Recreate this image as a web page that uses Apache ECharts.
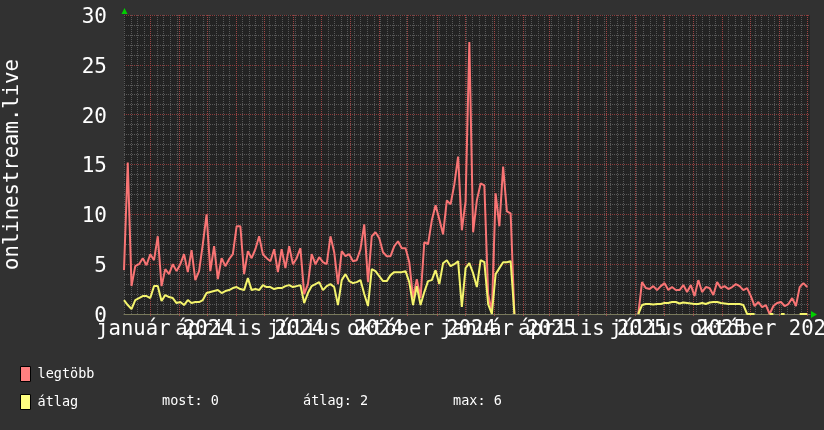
<!DOCTYPE html>
<html>
<head>
<meta charset="utf-8">
<script src="https://cdn.jsdelivr.net/npm/echarts@6/dist/echarts.min.js"></script>
<style>
  html, body { margin: 0; padding: 0; background: #313131; }
  #chart { width: 824px; height: 430px; }
</style>
</head>
<body>
<div id="chart"></div>
<script>
// one sample every 4 days, starting 2023-12-04 (null = no data)
const startDate = Date.UTC(2023, 11, 4);
const dayCount = 732;
const dayStep = 4;

const maxValues = [
  4.4, 15.2, 2.8, 4.8, 5.0, 5.6, 4.9, 6.0, 5.4, 7.8,
  2.8, 4.5, 4.0, 5.0, 4.3, 5.0, 6.0, 4.2, 6.4, 3.4,
  4.3, 7.0, 10.0, 4.3, 6.8, 3.5, 5.6, 4.8, 5.5, 6.0,
  8.8, 8.8, 4.0, 6.3, 5.6, 6.5, 7.8, 6.0, 5.6, 5.3,
  6.5, 4.2, 6.5, 4.6, 6.8, 5.0, 5.6, 6.6, 2.0, 3.0,
  6.0, 5.0, 5.7, 5.2, 5.0, 7.8, 6.2, 3.0, 6.3, 5.8,
  6.0, 5.3, 5.4, 6.5, 9.0, 3.2, 7.8, 8.2, 7.6, 6.2,
  5.8, 5.8, 6.8, 7.3, 6.6, 6.6, 5.2, 1.6, 3.5, 1.6,
  7.2, 7.0, 9.4, 10.9, 9.5, 8.0, 11.4, 11.0, 13.0, 15.8,
  8.4, 11.3, 27.3, 8.2, 11.4, 13.1, 12.9, 2.0, 0.2, 12.1,
  8.8, 14.8, 10.3, 10.1, 0,
  null, null, null, null, null, null, null, null, null, null,
  null, null, null, null, null, null, null, null, null, null,
  null, null, null, null, null, null, null, null, null, null,
  null, null, 0,
  3.2, 2.6, 2.5, 2.8, 2.4, 2.8, 3.1, 2.4, 2.7, 2.4,
  2.4, 2.9, 2.2, 2.9, 1.8, 3.4, 2.2, 2.7, 2.6, 1.9,
  3.2, 2.6, 2.8, 2.5, 2.7, 3.0, 2.8, 2.4, 2.6, 1.8,
  0.8, 1.2, 0.7, 0.9, 0.0, 0.8, 1.1, 1.2, 0.8, 1.0,
  1.6, 0.8, 2.7, 3.1, 2.7
];

const avgValues = [
  1.4, 0.9, 0.5, 1.4, 1.6, 1.8, 1.8, 1.6, 2.8, 2.8,
  1.3, 1.9, 1.7, 1.6, 1.1, 1.2, 0.9, 1.4, 1.1, 1.2,
  1.2, 1.4, 2.1, 2.2, 2.3, 2.4, 2.1, 2.3, 2.4, 2.6,
  2.7, 2.5, 2.4, 3.6, 2.4, 2.5, 2.4, 2.9, 2.7, 2.7,
  2.5, 2.6, 2.6, 2.8, 2.9, 2.7, 2.8, 2.9, 1.1, 2.1,
  2.8, 3.0, 3.2, 2.4, 2.8, 3.0, 2.7, 0.9, 3.4, 4.0,
  3.3, 3.1, 3.2, 3.4, 2.0, 0.8, 4.5, 4.3, 3.8, 3.3,
  3.3, 3.9, 4.2, 4.2, 4.2, 4.3, 3.2, 0.9, 2.8, 0.9,
  2.2, 3.3, 3.4, 4.4, 3.0, 5.1, 5.4, 4.8, 5.0, 5.3,
  0.7, 4.6, 5.1, 4.1, 2.7, 5.4, 5.2, 1.0, 0, 4.0,
  4.6, 5.2, 5.2, 5.3, 0,
  null, null, null, null, null, null, null, null, null, null,
  null, null, null, null, null, null, null, null, null, null,
  null, null, null, null, null, null, null, null, null, null,
  null, null, 0,
  0.9, 1.0, 1.0, 0.95, 1.0, 1.0, 1.1, 1.1, 1.2, 1.2,
  1.05, 1.15, 1.1, 1.05, 1.0, 1.0, 1.1, 1.0, 1.15, 1.2,
  1.2, 1.1, 1.05, 1.0, 1.0, 1.0, 1.0, 0.9, 0, 0,
  0, null, 0, null, 0, 0, null, 0, 0, null,
  0, null, 0, 0, 0
];

const seriesNames = ["legtöbb", "átlag"];
const statNames = ["most", "átlag", "max"];
const statValues = [0, 2, 6];
const monthNames = ["január", "február", "március", "április", "május", "június",
  "július", "augusztus", "szeptember", "október", "november", "december"];

const days = [];
for (let i = 0; i < dayCount; i++) {
  days.push(new Date(startDate + i * 86400000).toISOString().slice(0, 10));
}
const toData = (vals) => vals.map((v, i) => [i * dayStep, v === null ? "-" : v]);

const mono = '"DejaVu Sans Mono", monospace';

const dayOf = (a, b) => {
  if (typeof a === "number") return days[a];
  if (typeof a === "string") return a;
  if (a && typeof a.value === "number") return days[a.value];
  return typeof b === "string" ? b : "";
};
const isLabelDay = (a, b) => {
  const d = dayOf(a, b);
  return !!d && d.slice(8) === "16" && (+d.slice(5, 7) - 1) % 3 === 0;
};
// the two ends carry a blank label, so the overlap check drops those instead of real labels
const showLabel = (a, b) => {
  const d = dayOf(a, b);
  return d === days[0] || d === days[dayCount - 1] || isLabelDay(a, b);
};

// vertical grid: Mondays (grey) and first of month (red), snapped to whole pixels
const weekLines = [];
const monthLines = [];
days.forEach((d, i) => {
  if (new Date(d + "T00:00:00Z").getUTCDay() === 1) weekLines.push([i, 0]);
  if (d.slice(8) === "01") monthLines.push([i, 0]);
});
const gridLines = (name, lines, color, z, tick) => ({
  name, type: "custom", data: lines, silent: true, z, clip: false,
  renderItem: (params, api) => {
    const cs = params.coordSys;
    const x = Math.round(api.coord([api.value(0), 0])[0]) + 0.5;
    return {
      type: "line", silent: true,
      shape: { x1: x, y1: cs.y, x2: x, y2: cs.y + cs.height + tick },
      style: { stroke: color, lineWidth: 1, lineDash: [1, 1] }
    };
  }
});

const chart = echarts.init(document.getElementById("chart"));
chart.setOption({
  animation: false,
  backgroundColor: "#313131",
  grid: {
    left: 124, right: 14, top: 15, bottom: 116,
    outerBounds: { left: -300, right: -300, top: -300, bottom: -300 },
    show: true, backgroundColor: "#232323", borderWidth: 0
  },
  xAxis: {
    type: "category", data: days, boundaryGap: false,
    axisLine: { show: true, lineStyle: { color: "#7a7a5c" } },
    axisTick: { show: false },
    axisLabel: {
      interval: showLabel, color: "#ffffff", fontSize: 20.6, fontFamily: mono, margin: 5,
      formatter: (v) => isLabelDay(v) ? monthNames[+v.slice(5, 7) - 1] + " " + v.slice(0, 4) : " "
    },
    splitLine: { show: false }
  },
  yAxis: {
    type: "value", min: 0, max: 30, interval: 5,
    name: "onlinestream.live", nameLocation: "middle", nameGap: 101, nameRotate: 90,
    nameTextStyle: { color: "#ffffff", fontSize: 20.6, fontFamily: mono },
    axisLine: { show: false },
    axisTick: { show: false },
    axisLabel: {
      margin: 17,
      formatter: (v) => "{n|" + v + "}",
      rich: { n: { color: "#ffffff", fontSize: 21, fontFamily: mono, padding: [5, 0, 0, 0] } }
    },
    splitLine: { show: true, lineStyle: { color: "#8c3c3c", type: "dotted" } },
    minorTick: { show: false, splitNumber: 5 },
    minorSplitLine: { show: true, lineStyle: { color: "#585858", type: "dotted" } }
  },
  legend: {
    orient: "vertical", left: 20, top: 366, padding: 0, itemWidth: 10, itemHeight: 15, itemGap: 12,
    icon: "rect", selectedMode: false,
    textStyle: { color: "#ffffff", fontSize: 13.5, fontFamily: mono, padding: [0, 0, 0, 2] },
    data: [
      { name: seriesNames[0], itemStyle: { color: "#ff8080", borderColor: "#000", borderWidth: 1 } },
      { name: seriesNames[1], itemStyle: { color: "#ffff80", borderColor: "#000", borderWidth: 1 } }
    ]
  },
  graphic: [
    { type: "polygon", shape: { points: [[121.5, 14], [127.5, 14], [124.5, 8]] }, style: { fill: "#00d000" } },
    { type: "polygon", shape: { points: [[811, 311], [811, 318], [817, 314.5]] }, style: { fill: "#00d000" } },
    ...statNames.map((n, k) => ({
      type: "text", x: [162, 303, 453][k], y: 401,
      style: { text: n + ": " + statValues[k], fill: "#ffffff", font: "13.5px " + mono, verticalAlign: "middle" }
    }))
  ],
  series: [
    gridLines("weekGrid", weekLines, "#585858", 1, 0),
    gridLines("monthGrid", monthLines, "#a04444", 2, 3),
    {
      name: seriesNames[0], type: "line", z: 3, data: toData(maxValues),
      showSymbol: false, connectNulls: false,
      lineStyle: { color: "#f87474", width: 2 }, itemStyle: { color: "#ff8080" }
    },
    {
      name: seriesNames[1], type: "line", z: 4, data: toData(avgValues),
      showSymbol: false, connectNulls: false,
      lineStyle: { color: "#f4f46c", width: 2 }, itemStyle: { color: "#ffff80" }
    }
  ]
});
</script>
</body>
</html>
